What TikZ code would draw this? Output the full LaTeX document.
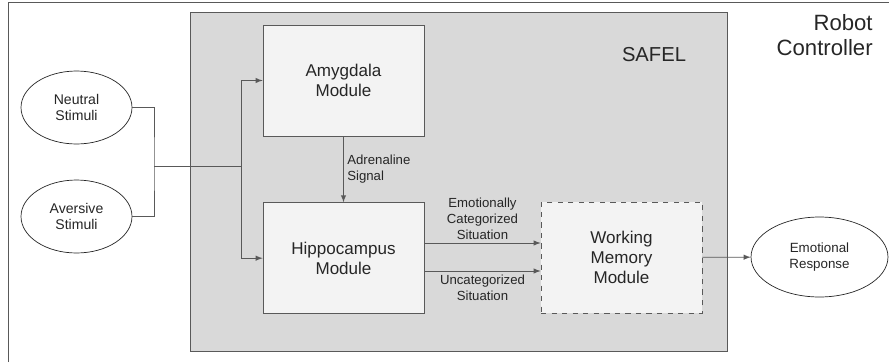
\documentclass[tikz,border=0pt]{standalone}
\usepackage{fontspec}
\setmainfont{Liberation Sans}
\usetikzlibrary{arrows,positioning,shapes}
\definecolor{linegray}{HTML}{595959}
\definecolor{safelgray}{HTML}{D9D9D9}
\definecolor{modgray}{HTML}{F3F3F3}
\definecolor{textgray}{HTML}{262626}
\tikzstyle{module}=[rectangle,draw=linegray,fill=modgray,text=textgray,
minimum width=3.22cm,minimum height=2.22cm,align=center,
font=\fontsize{9.7}{11.2}\selectfont]
\tikzstyle{dmodule}=[module,dashed]
\tikzstyle{stimulus}=[ellipse,draw=textgray,fill=white,text=textgray,
minimum width=2.22cm,minimum height=1.46cm,align=center,inner sep=0pt,
font=\fontsize{8}{9.4}\selectfont]
\tikzstyle{signal}=[text=textgray,align=center,font=\fontsize{7.5}{9}\selectfont]

\begin{document}
\begin{tikzpicture}[x=0.02cm,y=-0.02cm,>=latex,draw=linegray]
			\useasboundingbox (0,0) rectangle (889,362);
			% Robot controller frame and SAFEL box
			\draw (8,362) -- (8,2) -- (889,2);
			\node[anchor=north east,align=right,text=textgray,inner sep=0pt,
				font=\fontsize{12.6}{14.2}\selectfont] (robot) at (873,14) {Robot\\Controller};
			\node[rectangle,draw=linegray,fill=safelgray,minimum width=10.74cm,
				minimum height=6.78cm] (safel) at (458.5,181.5) {};
			\node[text=textgray,font=\fontsize{11.5}{13}\selectfont] (safellabel) at (654,55) {SAFEL};

			% modules
			\node[module] (amyg) at (343.5,80.5) {Amygdala\\Module};
			\node[module,below=1.32cm of amyg] (hippo) {Hippocampus\\Module};
			\node[dmodule] (wm) at (621.5,257.5) {Working\\Memory\\Module};

			% stimuli and response
			\node[stimulus] (neutral) at (76.5,107.5) {Neutral\\Stimuli};
			\node[stimulus] (aversive) at (76.5,216.5) {Aversive\\Stimuli};
			\node[stimulus,minimum width=2.74cm,minimum height=1.6cm,
				font=\fontsize{7.6}{9}\selectfont] (response) at (819.5,257) {Emotional\\Response};

			\coordinate (join) at (154,166);
			\coordinate (fork) at (241,166);

			\draw (neutral.east) -| (join) |- (aversive.east);
			\draw (join) -- (fork);
			\draw[->] (fork) |- (amyg.west);
			\draw[->] (fork) |- (hippo.west);

			\draw[->] (amyg) -- node[signal,right,align=left,inner sep=2pt] {Adrenaline\\Signal} (hippo);
			\draw[->] (hippo.east |- 0,243) -- node[signal,above,inner sep=2pt] {Emotionally\\Categorized\\Situation} (wm.west |- 0,243);
			\draw[->] (hippo.east |- 0,271) -- node[signal,below,inner sep=2pt] {Uncategorized\\Situation} (wm.west |- 0,271);
			\draw[->] (wm) -- (response);
		\end{tikzpicture}
\end{document}
